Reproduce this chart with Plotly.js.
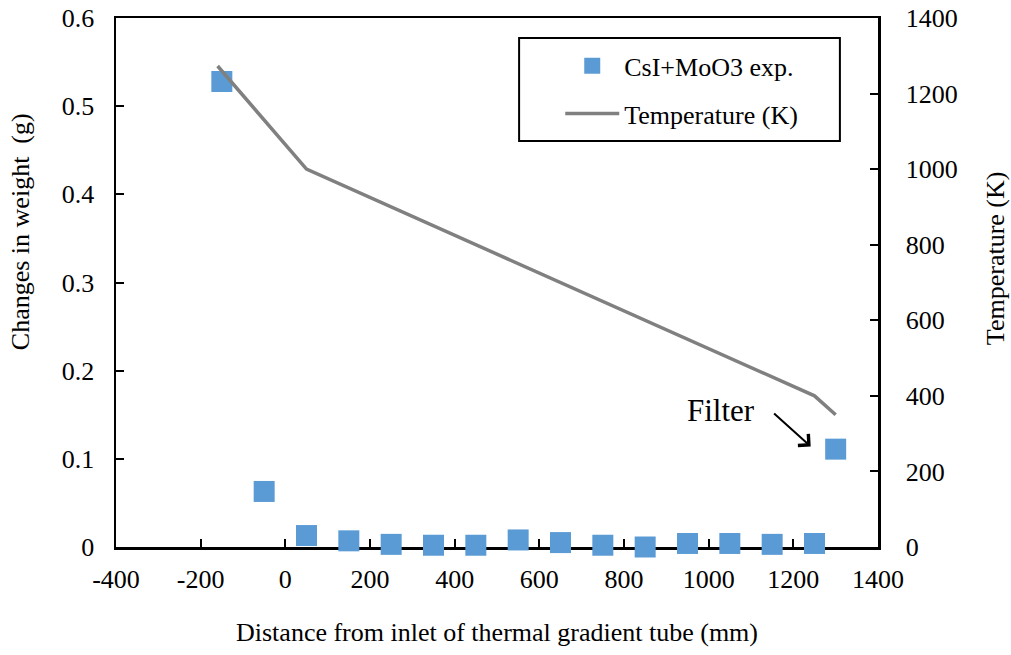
<!DOCTYPE html>
<html>
<head>
<meta charset="utf-8">
<script src="https://cdn.plot.ly/plotly-3.0.1.min.js"></script>
<style>html,body{margin:0;padding:0;background:#fff;}#chart{width:1011px;height:655px;}</style>
</head>
<body>
<div id="chart"></div>
<script>
// Experimental weight changes
const distance = [-150, -50, 50, 150, 250, 350, 450, 550, 650, 750, 850, 950, 1050, 1150, 1250, 1300];
const weightChange = [0.528, 0.063, 0.013, 0.007, 0.003, 0.002, 0.002, 0.008, 0.005, 0.002, 0.000, 0.004, 0.004, 0.003, 0.004, 0.111];
// Temperature profile
const tempDistance = [-160, 50, 1250, 1300];
const temperature = [1273, 1000, 400, 350];
// Tick labels
const xTickVals = [-400, -200, 0, 200, 400, 600, 800, 1000, 1200, 1400];
const xTickText = ['-400', '-200', '0', '200', '400', '600', '800', '1000', '1200', '1400'];
const y1TickVals = [0, 0.1, 0.2, 0.3, 0.4, 0.5, 0.6];
const y1TickText = ['0', '0.1', '0.2', '0.3', '0.4', '0.5', '0.6'];
const y2TickVals = [0, 200, 400, 600, 800, 1000, 1200, 1400];
const y2TickText = ['0', '200', '400', '600', '800', '1000', '1200', '1400'];
// Titles
const xTitle = 'Distance from inlet of thermal gradient tube (mm)';
const yTitle = 'Changes in weight&nbsp;&nbsp;(g)';
const y2Title = 'Temperature (K)';

const FONT = 'Liberation Serif';

const traces = [
  {
    x: distance, y: weightChange, type: 'scatter', mode: 'markers',
    name: 'CsI+MoO3 exp.', legendgroup: 'a', cliponaxis: false,
    marker: {symbol: 'square', size: 21, color: '#5B9BD5'},
    xaxis: 'x', yaxis: 'y'
  },
  {
    x: tempDistance, y: temperature, type: 'scatter', mode: 'lines',
    name: 'Temperature (K)', legendgroup: 'b', cliponaxis: false,
    line: {color: '#808080', width: 3.5},
    xaxis: 'x', yaxis: 'y2'
  }
];

const layout = {
  width: 1011, height: 655,
  margin: {l: 116, r: 133, t: 18, b: 108},
  paper_bgcolor: '#fff', plot_bgcolor: '#fff',
  font: {family: FONT, size: 26, color: '#000'},
  showlegend: true,
  legend: {
    x: 0.583, y: 0.954, xanchor: 'left', yanchor: 'top',
    bgcolor: 'rgba(0,0,0,0)', borderwidth: 0,
    traceorder: 'grouped', tracegroupgap: 11,
    font: {family: FONT, size: 26, color: '#000'},
    itemwidth: 54
  },
  xaxis: {
    range: [-400, 1400], tickvals: xTickVals, ticktext: xTickText,
    showgrid: false, zeroline: false, layer: 'below traces',
    showline: true, linecolor: '#000', linewidth: 2.5, mirror: true,
    ticks: 'inside', ticklen: 8, tickwidth: 2, tickcolor: '#000',
    ticklabelstandoff: 7,
    tickfont: {family: FONT, size: 26, color: '#000'},
    title: {text: xTitle, font: {family: FONT, size: 26, color: '#000'}, standoff: 30}
  },
  yaxis: {
    range: [0, 0.6], tickvals: y1TickVals, ticktext: y1TickText,
    showgrid: false, zeroline: false, layer: 'below traces',
    showline: true, linecolor: '#000', linewidth: 2.5,
    ticks: 'inside', ticklen: 8, tickwidth: 2, tickcolor: '#000',
    ticklabelstandoff: 14,
    tickfont: {family: FONT, size: 26, color: '#000'}
  },
  yaxis2: {
    range: [0, 1400], tickvals: y2TickVals, ticktext: y2TickText,
    overlaying: 'y', side: 'right', layer: 'below traces',
    showgrid: false, zeroline: false,
    showline: true, linecolor: '#000', linewidth: 2.5,
    ticks: 'inside', ticklen: 8, tickwidth: 2, tickcolor: '#000',
    ticklabelstandoff: 20,
    tickfont: {family: FONT, size: 26, color: '#000'}
  },
  shapes: [
    {type: 'rect', xref: 'paper', yref: 'paper', x0: 0.529, x1: 0.950, y0: 0.7675, y1: 0.962,
     line: {color: '#000', width: 2}, fillcolor: 'rgba(0,0,0,0)'}
  ],
  annotations: [
    {x: -0.126, y: 0.597, xref: 'paper', yref: 'paper', text: yTitle, textangle: -90, showarrow: false,
     xanchor: 'center', yanchor: 'middle', font: {family: FONT, size: 26, color: '#000'}},
    {x: 1.1535, y: 0.546, xref: 'paper', yref: 'paper', text: y2Title, textangle: -90, showarrow: false,
     xanchor: 'center', yanchor: 'middle', font: {family: FONT, size: 26, color: '#000'}},
    {x: 1028, y: 0.155, xref: 'x', yref: 'y', text: 'Filter', showarrow: false,
     font: {family: FONT, size: 31, color: '#000'}},
    {x: 1241, y: 0.114, xref: 'x', yref: 'y', ax: 1151, ay: 0.153, axref: 'x', ayref: 'y',
     text: '', showarrow: true, arrowhead: 4, arrowsize: 1.5, arrowwidth: 2, arrowcolor: '#000'}
  ]
};

Plotly.newPlot('chart', traces, layout, {displayModeBar: false, staticPlot: true});
</script>
</body>
</html>
